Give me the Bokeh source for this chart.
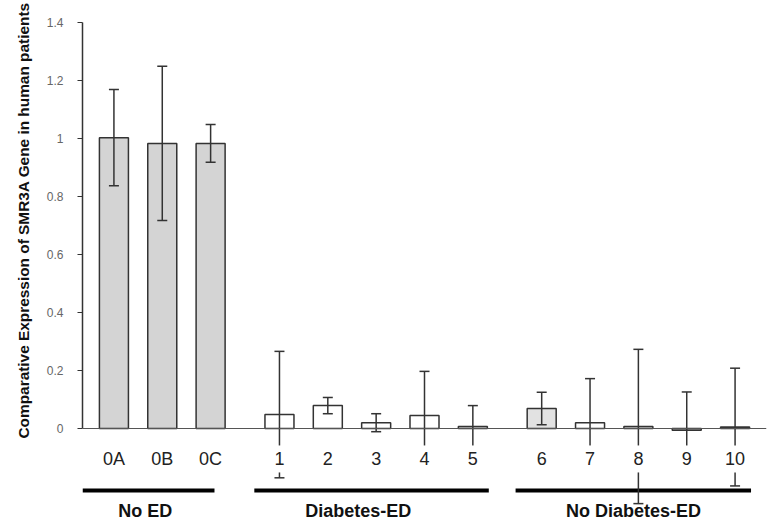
import math
from bokeh.plotting import figure
from bokeh.models import ColumnDataSource, FactorRange, FixedTicker, Span, Range1d, Title
from bokeh.core.properties import value
from bokeh.embed import file_html
from bokeh.resources import INLINE

# ---- data ----
groups = ["No ED", "Diabetes-ED", "No Diabetes-ED"]
group_members = [["0A", "0B", "0C"], ["1", "2", "3", "4", "5"], ["6", "7", "8", "9", "10"]]
expression = [1.003, 0.983, 0.983, 0.048, 0.079, 0.020, 0.045, 0.007, 0.069, 0.020, 0.007, -0.006, 0.005]
error = [0.166, 0.266, 0.065, 0.218, 0.028, 0.031, 0.152, 0.072, 0.056, 0.152, 0.266, 0.132, 0.203]
y_ticks = [0, 0.2, 0.4, 0.6, 0.8, 1.0, 1.2, 1.4]
y_tick_labels = ["0", "0.2", "0.4", "0.6", "0.8", "1", "1.2", "1.4"]
y_title = "Comparative Expression of SMR3A Gene in human patients"

# styles / layout tweaks (offsets in category units)
bar_fills = ["#d4d4d4"] * 3 + ["#ffffff"] * 5 + ["#e2e2e2"] + ["#ffffff"] * 4
line_start_off = [-0.65, -0.52, -0.54]
line_end_off = [0.08, 0.33, 0.33]
label_off = [-0.35, -0.37, -0.1]
FONT = "Liberation Sans"
INK = "#333333"

factors = [(g, m) for g, ms in zip(groups, group_members) for m in ms]
labels = [m for ms in group_members for m in ms]
lo = [v - e for v, e in zip(expression, error)]
hi = [v + e for v, e in zip(expression, error)]

src = ColumnDataSource(dict(x=factors, top=expression, lo=lo, hi=hi, fill=bar_fills, label=labels))

grp_src = ColumnDataSource(dict(
    x0=[(g, ms[0], o) for g, ms, o in zip(groups, group_members, line_start_off)],
    x1=[(g, ms[-1], o) for g, ms, o in zip(groups, group_members, line_end_off)],
    xm=[(g, ms[len(ms) // 2], o) for g, ms, o in zip(groups, group_members, label_off)],
    name=groups,
))

x_range = FactorRange(factors=factors, group_padding=0.424, factor_padding=0.0,
                      range_padding=0.15, range_padding_units="absolute")

p = figure(x_range=x_range, y_range=Range1d(-0.3379, 1.4345),
           width=772, height=526, output_backend="svg", toolbar_location=None,
           x_axis_location=None, min_border_left=81, min_border_right=6,
           min_border_top=12, min_border_bottom=0, outline_line_color=None,
           background_fill_color="white", border_fill_color="white")
for g in p.grid:
    g.visible = False

# bars
p.vbar(x="x", top="top", bottom=0, width=0.6, fill_color="fill",
       line_color=INK, line_width=1.5, source=src)

# group lines
p.segment(x0="x0", y0=-0.214, x1="x1", y1=-0.214, line_color="black",
          line_width=4, source=grp_src)

# error bars
p.segment(x0="x", y0="lo", x1="x", y1="hi", line_color=INK, line_width=1.5, source=src)
p.scatter(x="x", y="hi", marker="dash", size=10, line_color=INK, line_width=1.5, source=src)
p.scatter(x="x", y="lo", marker="dash", size=10, line_color=INK, line_width=1.5, source=src)

# category labels (with white boxes, as in the original)
p.text(x="x", y=-0.105, text="label", text_font=value(FONT), text_font_size="18px",
       text_align="center", text_baseline="middle", text_color="#222222",
       background_fill_color="white", padding=7, source=src)

# group labels
p.text(x="xm", y=-0.283, text="name", text_font=value(FONT), text_font_size="18px",
       text_font_style="bold", text_align="center", text_baseline="middle",
       text_color="#111111", source=grp_src)

# baseline
p.add_layout(Span(location=0, dimension="width", line_color="#555555", line_width=1.2))

# y axis
ya = p.yaxis[0]
ya.ticker = FixedTicker(ticks=y_ticks)
ya.major_label_overrides = dict(zip(y_ticks, y_tick_labels))
ya.bounds = (0, 1.4)
ya.axis_line_color = INK
ya.axis_line_width = 1.5
ya.major_tick_line_color = INK
ya.major_tick_line_width = 1.2
ya.major_tick_out = 5
ya.major_tick_in = 0
ya.minor_tick_line_color = None
ya.major_label_text_font = FONT
ya.major_label_text_font_size = "12px"
ya.major_label_text_color = "#666666"
ya.major_label_standoff = 14

p.add_layout(Title(text=y_title, align="left", offset=88, standoff=24,
                   text_font=FONT, text_font_style="bold", text_font_size="15.4px",
                   text_color="#111111"), "left")

open("out.html", "w").write(file_html(p, INLINE))
